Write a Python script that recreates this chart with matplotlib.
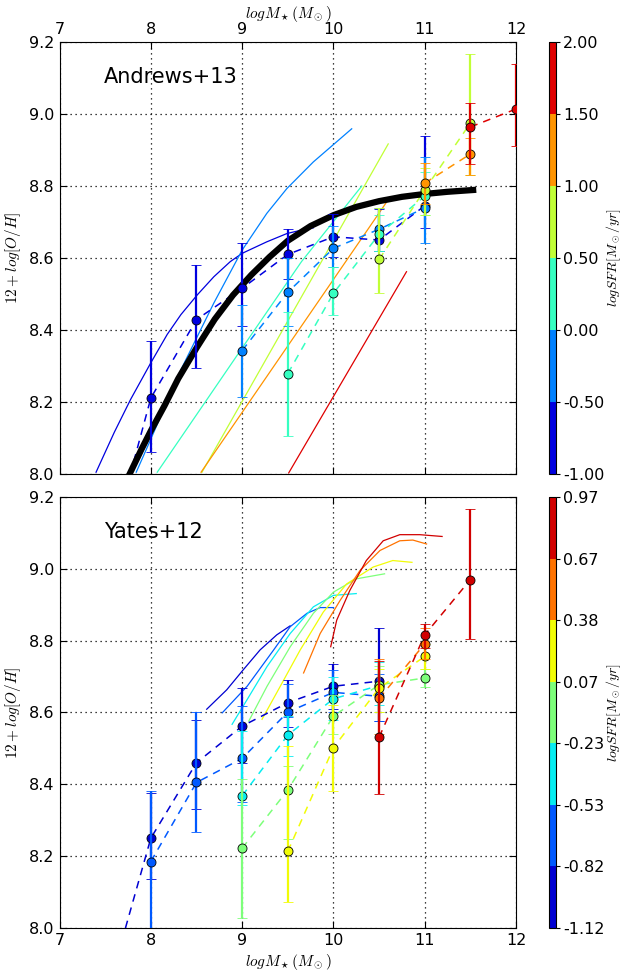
import numpy as np
import matplotlib
matplotlib.use("Agg")
import matplotlib.pyplot as plt
from matplotlib.colors import ListedColormap, BoundaryNorm
from matplotlib.cm import ScalarMappable

plt.rcParams['font.family'] = ['DejaVu Sans']
plt.rcParams['mathtext.fontset'] = 'cm'

# ---------------- Top panel: Andrews+13 ----------------
andrews_bounds = [-1.00, -0.50, 0.00, 0.50, 1.00, 1.50, 2.00]
andrews_mass = [
    [7.5, 8.0, 8.5, 9.0, 9.5, 10.0, 10.5, 11.0],
    [9.0, 9.5, 10.0, 10.5, 11.0],
    [9.5, 10.0, 10.5, 11.0],
    [10.5, 11.0, 11.5],
    [11.0, 11.5],
    [11.5, 12.0],
]
andrews_oh = [
    [7.74, 8.211, 8.429, 8.516, 8.610, 8.659, 8.650, 8.745],
    [8.343, 8.505, 8.627, 8.680, 8.739],
    [8.279, 8.502, 8.666, 8.772],
    [8.596, 8.790, 8.975],
    [8.808, 8.889],
    [8.964, 9.014],
]
andrews_hi = [
    [7.74, 8.369, 8.581, 8.642, 8.681, 8.721, 8.735, 8.940],
    [8.470, 8.600, 8.690, 8.740, 8.880],
    [8.450, 8.576, 8.720, 8.840],
    [8.740, 8.850, 9.167],
    [8.864, 8.933],
    [9.030, 9.140],
]
andrews_lo = [
    [7.74, 8.060, 8.294, 8.410, 8.543, 8.604, 8.620, 8.683],
    [8.214, 8.410, 8.576, 8.620, 8.642],
    [8.106, 8.442, 8.620, 8.720],
    [8.502, 8.720, 8.830],
    [8.750, 8.830],
    [8.860, 8.910],
]
# fit curves per SFR bin
andrews_curve_mass = [
    [7.40, 7.60, 7.78, 8.00, 8.18, 8.33, 8.51, 8.69, 8.87, 9.00, 9.16, 9.27, 9.49, 9.64, 9.78],
    [7.84, 8.00, 8.33, 8.69, 9.00, 9.27, 9.49, 9.78, 10.20],
    [8.07, 9.00, 9.65, 10.31],
    [8.56, 10.60],
    [8.55, 10.60],
    [9.51, 10.80],
]
andrews_curve_oh = [
    [8.005, 8.116, 8.208, 8.309, 8.388, 8.443, 8.498, 8.548, 8.590, 8.613, 8.632, 8.645, 8.668, 8.677, 8.684],
    [8.005, 8.097, 8.290, 8.475, 8.622, 8.724, 8.793, 8.867, 8.959],
    [8.005, 8.350, 8.590, 8.800],
    [8.005, 8.917],
    [8.005, 8.762],
    [8.003, 8.562],
]
# overall mass-metallicity relation (thick black)
mzr_mass = [7.76, 7.90, 8.00, 8.15, 8.30, 8.50, 8.70, 8.90, 9.10, 9.30, 9.50, 9.75,
            10.00, 10.25, 10.50, 10.75, 11.00, 11.25, 11.53]
mzr_oh = [7.996, 8.070, 8.120, 8.190, 8.265, 8.350, 8.430, 8.497, 8.553, 8.603, 8.648,
          8.689, 8.719, 8.742, 8.758, 8.770, 8.778, 8.784, 8.789]

# ---------------- Bottom panel: Yates+12 ----------------
yates_bounds = [-1.12, -0.82, -0.53, -0.23, 0.07, 0.38, 0.67, 0.97]
yates_mass = [
    [7.5, 8.0, 8.5, 9.0, 9.5, 10.0, 10.5],
    [8.0, 8.5, 9.0, 9.5, 10.0, 10.5],
    [9.0, 9.5, 10.0, 10.5],
    [9.0, 9.5, 10.0, 10.5, 11.0],
    [9.5, 10.0, 10.5, 11.0],
    [10.5, 11.0],
    [10.5, 11.0, 11.5],
]
yates_oh = [
    [7.80, 8.250, 8.460, 8.562, 8.627, 8.673, 8.687],
    [8.185, 8.405, 8.472, 8.601, 8.656, 8.645],
    [8.368, 8.537, 8.638, 8.675],
    [8.222, 8.384, 8.590, 8.677, 8.696],
    [8.213, 8.502, 8.668, 8.756],
    [8.639, 8.791],
    [8.531, 8.816, 8.970],
]
yates_hi = [
    [7.80, 8.375, 8.580, 8.668, 8.691, 8.735, 8.834],
    [8.380, 8.600, 8.617, 8.680, 8.717, 8.708],
    [8.547, 8.590, 8.700, 8.740],
    [8.416, 8.450, 8.650, 8.730, 8.720],
    [8.507, 8.620, 8.720, 8.790],
    [8.750, 8.836],
    [8.744, 8.846, 9.166],
]
yates_lo = [
    [7.80, 8.137, 8.330, 8.460, 8.560, 8.610, 8.576],
    [7.950, 8.268, 8.350, 8.586, 8.600, 8.575],
    [8.343, 8.480, 8.580, 8.620],
    [8.028, 8.248, 8.540, 8.600, 8.671],
    [8.072, 8.380, 8.600, 8.720],
    [8.540, 8.750],
    [8.373, 8.780, 8.804],
]
yates_curve_mass = [
    [8.612, 8.831, 9.013, 9.196, 9.379, 9.525],
    [8.782, 9.055, 9.345, 9.527, 9.710, 9.855, 10.000],
    [8.890, 9.055, 9.273, 9.527, 9.780, 10.000, 10.250],
    [9.073, 9.273, 9.527, 9.780, 10.000, 10.250, 10.560],
    [9.218, 9.418, 9.636, 9.890, 10.145, 10.436, 10.650, 10.860],
    [9.673, 9.855, 10.073, 10.290, 10.510, 10.727, 10.870, 11.020],
    [9.970, 10.036, 10.180, 10.360, 10.545, 10.727, 10.945, 11.190],
]
yates_curve_oh = [
    [8.609, 8.663, 8.719, 8.774, 8.816, 8.841],
    [8.599, 8.673, 8.774, 8.839, 8.876, 8.892, 8.892],
    [8.567, 8.636, 8.728, 8.820, 8.894, 8.926, 8.931],
    [8.576, 8.673, 8.783, 8.876, 8.935, 8.972, 8.986],
    [8.581, 8.673, 8.774, 8.880, 8.958, 9.005, 9.023, 9.018],
    [8.710, 8.820, 8.912, 8.995, 9.051, 9.078, 9.080, 9.069],
    [8.783, 8.857, 8.940, 9.023, 9.078, 9.095, 9.095, 9.090],
]

xticks = [7, 8, 9, 10, 11, 12]
yticks = [8.0, 8.2, 8.4, 8.6, 8.8, 9.0, 9.2]

jet = plt.get_cmap('jet')


def make_cmap(bounds):
    n = len(bounds) - 1
    cols = [jet((i + 0.5) / n) for i in range(n)]
    return ListedColormap(cols), BoundaryNorm(bounds, n), cols


fig = plt.figure(figsize=(6.24, 9.8), dpi=100)
ax1 = fig.add_axes([0.0954, 0.5163, 0.7316, 0.4408])
cax1 = fig.add_axes([0.8798, 0.5163, 0.0112, 0.4408])
ax2 = fig.add_axes([0.0954, 0.0531, 0.7316, 0.4398])
cax2 = fig.add_axes([0.8798, 0.0531, 0.0112, 0.4398])


def draw_panel(ax, cax, bounds, mass, oh, hi, lo, cmass, coh, title, top):
    cmap, norm, cols = make_cmap(bounds)
    for i in range(len(cmass)):
        ax.plot(cmass[i], coh[i], '-', color=cols[i], lw=0.9, zorder=2)
    for i in range(len(mass)):
        m = np.array(mass[i]); z = np.array(oh[i])
        h = np.array(hi[i]); l = np.array(lo[i])
        ax.plot(m, z, '--', color=cols[i], lw=1.1, dashes=(5, 4), zorder=3)
        ax.errorbar(m, z, yerr=[z - l, h - z], fmt='o', color=cols[i], mec='k', mew=0.6,
                    ms=6.5, capsize=3.5, elinewidth=1.6, capthick=1.2, zorder=4 + i * 0.1)
    ax.set_xlim(7, 12)
    ax.set_ylim(8.0, 9.2)
    ax.set_xticks(xticks)
    ax.set_yticks(yticks)
    ax.set_yticklabels(['%.1f' % v for v in yticks])
    ax.grid(True, color='k', linestyle=(0, (1, 3)), lw=0.9)
    ax.tick_params(direction='in', top=True, right=True, labelsize=11.5, length=5)
    ax.set_ylabel(r'$12+log[O/H]$', fontsize=11)
    if top:
        ax.tick_params(labeltop=True, labelbottom=False)
        ax.xaxis.set_label_position('top')
    ax.set_xlabel(r'$logM_\star(M_\odot)$', fontsize=11, labelpad=3)
    ax.text(0.097, 0.919, title, transform=ax.transAxes, fontsize=15, va='center', ha='left')
    sm = ScalarMappable(norm=norm, cmap=cmap)
    cb = fig.colorbar(sm, cax=cax, ticks=bounds, format='%.2f')
    cb.ax.tick_params(labelsize=11.5, length=3, pad=2)
    cb.set_label(r'$logSFR[M_\odot/yr]$', fontsize=10, labelpad=0)


draw_panel(ax1, cax1, andrews_bounds, andrews_mass, andrews_oh, andrews_hi, andrews_lo,
           andrews_curve_mass, andrews_curve_oh, 'Andrews+13', True)
ax1.plot(mzr_mass, mzr_oh, '-', color='k', lw=4.5, zorder=3.5)
draw_panel(ax2, cax2, yates_bounds, yates_mass, yates_oh, yates_hi, yates_lo,
           yates_curve_mass, yates_curve_oh, 'Yates+12', False)

fig.savefig('out.png', dpi=100, facecolor='white')
